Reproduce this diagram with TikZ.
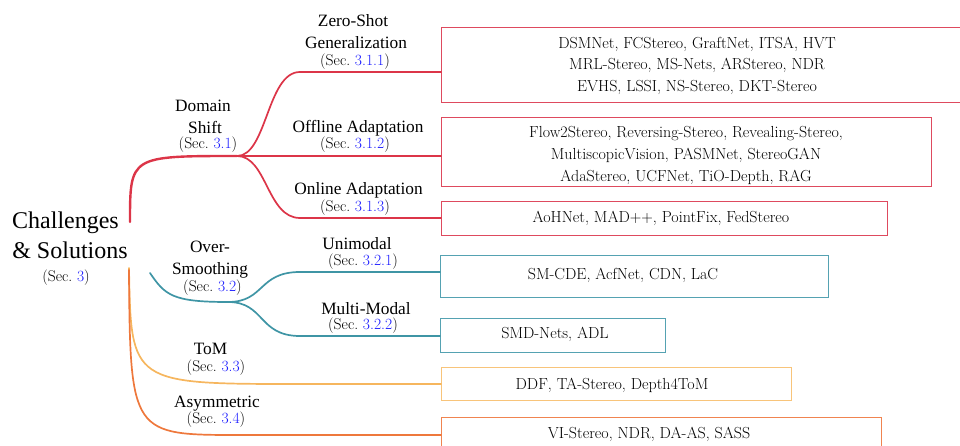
\documentclass[tikz,border=0pt]{standalone}
\usepackage{fontspec}
\newfontfamily\tnr{Liberation Serif}
\definecolor{cred}{HTML}{DC3548}
\definecolor{cblue}{HTML}{3F95A5}
\definecolor{cyel}{HTML}{F6B65E}
\definecolor{corg}{HTML}{EE783C}
\definecolor{bred}{HTML}{DE4A5E}
\definecolor{bblue}{HTML}{55A2B2}
\definecolor{byel}{HTML}{F8C47A}
\definecolor{borg}{HTML}{F08450}
\definecolor{sblue}{HTML}{1A1AFF}
\newcommand{\secref}[1]{(Sec.~\textcolor{sblue}{#1})}
\begin{document}
\begin{tikzpicture}[x=1pt,y=-1pt,
  lab/.style={font=\tnr\fontsize{17.3}{21}\selectfont, inner sep=0pt, anchor=base},
  sec/.style={font=\fontsize{15.6}{18}\selectfont, inner sep=0pt, anchor=base},
  ttl/.style={font=\tnr\fontsize{24}{30}\selectfont, inner sep=0pt, anchor=base},
  btext/.style={font=\fontsize{16}{22}\selectfont, inner sep=0pt, anchor=base, align=center},
  ibox/.style={draw, line width=1.4pt, inner sep=0pt, anchor=north west},
  conn/.style={line width=1.7pt, line cap=round},
]
\useasboundingbox (0,0) rectangle (960,446);
\clip (0,0) rectangle (960,446);

% boxes
\node[ibox, draw=bred,  minimum width=560pt, minimum height=75pt] (b1) at (441,27) {};
\node[ibox, draw=bred,  minimum width=490pt, minimum height=69pt] (b2) at (441,117) {};
\node[ibox, draw=bred,  minimum width=446pt, minimum height=34pt] (b3) at (441,201) {};
\node[ibox, draw=bblue, minimum width=388pt, minimum height=42pt] (b4) at (440,255) {};
\node[ibox, draw=bblue, minimum width=225pt, minimum height=34pt] (b5) at (440,318) {};
\node[ibox, draw=byel,  minimum width=350pt, minimum height=33pt] (b6) at (441,367) {};
\node[ibox, draw=borg,  minimum width=440pt, minimum height=40pt] (b7) at (441,417) {};

% box texts (base = last line)
\node[btext, font=\fontsize{16}{21.7}\selectfont] (x1) at (697,91.7) {DSMNet, FCStereo, GraftNet, ITSA, HVT\\MRL-Stereo, MS-Nets, ARStereo, NDR\\EVHS, LSSI, NS-Stereo, DKT-Stereo};
\node[btext] (x2) at (686,181.7) {Flow2Stereo, Reversing-Stereo, Revealing-Stereo,\\MultiscopicVision, PASMNet, StereoGAN\\AdaStereo, UCFNet, TiO-Depth, RAG};
\node[btext] (x3) at (661,222.7) {AoHNet, MAD++, PointFix, FedStereo};
\node[btext] (x4) at (623,279.3) {SM-CDE, AcfNet, CDN, LaC};
\node[btext] (x5) at (555,338.3) {SMD-Nets, ADL};
\node[btext] (x6) at (612,389.3) {DDF, TA-Stereo, Depth4ToM};
\node[btext] (x7) at (649,438.3) {VI-Stereo, NDR, DA-AS, SASS};

% connector points
\coordinate (rR) at (130,222);
\coordinate (rB) at (150,273);
\coordinate (rY) at (129,268);
\coordinate (rO) at (129,270);
\coordinate (ds) at (237,156);
\coordinate (os) at (228,302);
\coordinate (e1) at (441,72);
\coordinate (e2) at (441,156);
\coordinate (e3) at (441,218);
\coordinate (e4) at (440,272);
\coordinate (e5) at (440,336);
\coordinate (e6) at (441,384);
\coordinate (e7) at (441,435);

% connectors
\draw[conn, cred, line width=2.4pt] (rR) .. controls (130,156) and (130,156) .. (ds);
\draw[conn, cred] (ds) .. controls (267,156) and (267,72) .. (300,72) -- (e1);
\draw[conn, cred] (ds) -- (e2);
\draw[conn, cred] (ds) .. controls (267,156) and (267,218) .. (300,218) -- (e3);
\draw[conn, cblue] (rB) .. controls (165,295) and (172,302) .. (os);
\draw[conn, cblue] (os) .. controls (265,302) and (258,272) .. (300,272) -- (e4);
\draw[conn, cblue] (os) .. controls (265,302) and (258,336) .. (300,336) -- (e5);
\draw[conn, cyel] (rY) .. controls (131,384) and (131,384) .. (300,384) -- (e6);
\draw[conn, corg] (rO) .. controls (130,435) and (132,435) .. (240,435) -- (e7);

% root
\node[ttl] (t1) at (65.5,228.3) {Challenges};
\node[ttl] (t2) at (70,258.3) {\& Solutions};
\node[sec] (t3) at (66,281.7) {\secref{3}};

% labels
\node[lab] (l1a) at (353,26.7) {Zero-Shot};
\node[lab] (l1b) at (356,48.3) {Generalization};
\node[sec] (l1c) at (355,65.7) {\secref{3.1.1}};
\node[lab] (l0a) at (203,111.7) {Domain};
\node[lab] (l0b) at (205,133.3) {Shift};
\node[sec] (l0c) at (208,148.3) {\secref{3.1}};
\node[lab] (l2a) at (358,132.7) {Offline Adaptation};
\node[sec] (l2c) at (355,148.3) {\secref{3.1.2}};
\node[lab] (l3a) at (358.5,195) {Online Adaptation};
\node[sec] (l3c) at (355,211.7) {\secref{3.1.3}};
\node[lab] (m0a) at (210,252.3) {Over-};
\node[lab] (m0b) at (210,274) {Smoothing};
\node[sec] (m0c) at (212.5,291) {\secref{3.2}};
\node[lab] (m1a) at (357,250) {Unimodal};
\node[sec] (m1c) at (363,265.5) {\secref{3.2.1}};
\node[lab] (m2a) at (366,314) {Multi-Modal};
\node[sec] (m2c) at (363,329.5) {\secref{3.2.2}};
\node[lab] (y0a) at (210.5,354) {ToM};
\node[sec] (y0c) at (216,371.7) {\secref{3.3}};
\node[lab] (o0a) at (217,407.5) {Asymmetric};
\node[sec] (o0c) at (216,423) {\secref{3.4}};
\end{tikzpicture}
\end{document}
